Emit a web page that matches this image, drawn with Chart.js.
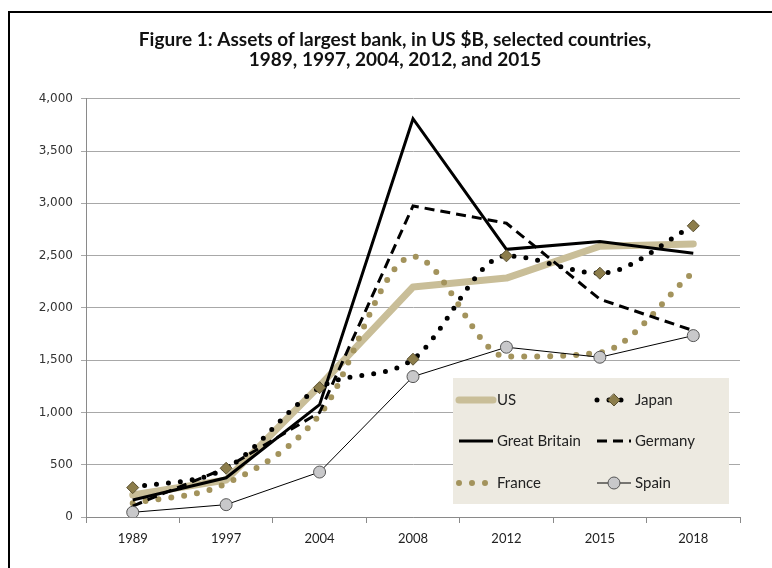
<!DOCTYPE html>
<html>
<head>
<meta charset="utf-8">
<script src="https://cdn.jsdelivr.net/npm/chart.js@4/dist/chart.umd.min.js"></script>
<style>
  html, body { margin: 0; padding: 0; background: #fff; }
  #wrap { position: relative; width: 772px; height: 568px; overflow: hidden; }
  #frame { position: absolute; left: 8px; top: 11px; width: 900px; height: 700px;
           border-left: 2px solid #000; border-top: 2px solid #000; pointer-events: none; }
</style>
</head>
<body>
<div id="wrap">
  <canvas id="c" width="772" height="568"></canvas>
  <div id="frame"></div>
</div>
<script>
'use strict';

// values, US $ billions
const years   = ['1989', '1997', '2004', '2008', '2012', '2015', '2018'];
const us      = [210, 354, 1255, 2200, 2285, 2590, 2612];
const japan   = [281, 466, 1237, 1509, 2498, 2332, 2785];
const gb      = [163, 375, 1075, 3810, 2560, 2635, 2523];
const germany = [105, 470, 1000, 2975, 2810, 2083, 1783];
const france  = [131, 320, 976, 2491, 1534, 1572, 2342];
const spain   = [45, 118, 430, 1343, 1624, 1528, 1735];
const yTicks  = [0, 500, 1000, 1500, 2000, 2500, 3000, 3500, 4000];

const KHAKI = '#C9BE98';
const OLIVE = '#A3935C';
const DIAMOND = '#8C7D4B';

// legend drawn inside the plot, two columns
const boxLegend = {
  id: 'boxLegend',
  afterLayout(chart){
    // center the title over the plot area instead of the whole canvas
    if(chart.titleBlock){ chart.titleBlock.left = 50; chart.titleBlock.right = 740; }
  },
  afterDatasetsDraw(chart){
    const ctx = chart.ctx;
    const ds = chart.data.datasets;
    const box = { x: 453, y: 378, w: 276, h: 126 };
    ctx.save();
    ctx.fillStyle = '#EDEAE1';
    ctx.fillRect(box.x, box.y, box.w, box.h);
    const cols = [459, 597];
    const rows = [400, 441, 483];
    ds.forEach((d, i) => {
      const x0 = cols[i % 2], x1 = x0 + 34, y = rows[Math.floor(i / 2)];
      ctx.save();
      ctx.strokeStyle = d.borderColor;
      ctx.lineWidth = d.borderWidth;
      ctx.lineCap = d.borderCapStyle || 'butt';
      ctx.setLineDash(d.borderDash || []);
      ctx.beginPath(); ctx.moveTo(x0, y); ctx.lineTo(x1, y); ctx.stroke();
      ctx.setLineDash([]);
      if(d.pointRadius > 0){
        const cx = (x0 + x1) / 2, r = d.pointRadius;
        ctx.fillStyle = d.pointBackgroundColor;
        ctx.strokeStyle = d.pointBorderColor;
        ctx.lineWidth = d.pointBorderWidth;
        ctx.beginPath();
        if(d.pointStyle === 'rectRot'){
          ctx.moveTo(cx, y - r); ctx.lineTo(cx + r, y); ctx.lineTo(cx, y + r); ctx.lineTo(cx - r, y); ctx.closePath();
        } else {
          ctx.arc(cx, y, r, 0, Math.PI * 2);
        }
        ctx.fill(); ctx.stroke();
      }
      ctx.restore();
      ctx.fillStyle = '#222';
      ctx.font = '15px Lato';
      ctx.textBaseline = 'middle';
      ctx.fillText(d.label, x1 + 4, y);
    });
    ctx.restore();
  }
};

new Chart(document.getElementById('c'), {
  type: 'line',
  data: {
    labels: years,
    datasets: [
      { label: 'US', data: us, borderColor: KHAKI, borderWidth: 7, borderCapStyle: 'round',
        borderJoinStyle: 'round', pointRadius: 0, tension: 0, order: 6 },
      { label: 'Japan', data: japan, borderColor: '#000', borderWidth: 5, borderDash: [0, 12],
        borderCapStyle: 'round', cubicInterpolationMode: 'monotone', pointStyle: 'rectRot', pointRadius: 6,
        pointBackgroundColor: DIAMOND, pointBorderColor: '#5A5030', pointBorderWidth: 1, order: 1 },
      { label: 'Great Britain', data: gb, borderColor: '#000', borderWidth: 3, pointRadius: 0,
        tension: 0, order: 2 },
      { label: 'Germany', data: germany, borderColor: '#000', borderWidth: 3, borderDash: [10, 6],
        pointRadius: 0, tension: 0, order: 3 },
      { label: 'France', data: france, borderColor: OLIVE, borderWidth: 6, borderDash: [0, 13],
        borderCapStyle: 'round', pointRadius: 0, cubicInterpolationMode: 'monotone', order: 4 },
      { label: 'Spain', data: spain, borderColor: '#000', borderWidth: 1, tension: 0,
        pointStyle: 'circle', pointRadius: 6, pointBackgroundColor: '#C8C8CA',
        pointBorderColor: '#555', pointBorderWidth: 1, order: 0 }
    ]
  },
  options: {
    responsive: false,
    animation: false,
    layout: { padding: { left: 0, right: 32, top: 0, bottom: 0 } },
    plugins: {
      legend: { display: false },
      tooltip: { enabled: false },
      title: {
        display: true,
        text: ['Figure 1: Assets of largest bank, in US $B, selected countries,', '1989, 1997, 2004, 2012, and 2015'],
        color: '#111',
        font: { family: 'Lato', size: 19, weight: 'bold', lineHeight: 1.1 },
        padding: { top: 29, bottom: 28 }
      }
    },
    scales: {
      x: {
        offset: true,
        afterFit: (s) => { s.height = 51; },
        grid: { offset: true, drawOnChartArea: false, drawTicks: true, tickLength: 6, color: '#8A8A8A' },
        border: { color: '#8A8A8A' },
        ticks: { color: '#222', font: { family: 'Lato', size: 13 }, padding: 8 }
      },
      y: {
        min: 0, max: 4000,
        afterFit: (s) => { s.width = 86; },
        afterBuildTicks: (s) => { s.ticks = yTicks.map(v => ({ value: v })); },
        grid: { color: '#A8A8A8', tickLength: 5 },
        border: { color: '#8A8A8A' },
        ticks: { color: '#333', font: { family: 'DejaVu Sans', size: 12 }, padding: 8,
                 callback: (v) => Number(v).toLocaleString('en-US') }
      }
    }
  },
  plugins: [boxLegend]
});
</script>
</body>
</html>
